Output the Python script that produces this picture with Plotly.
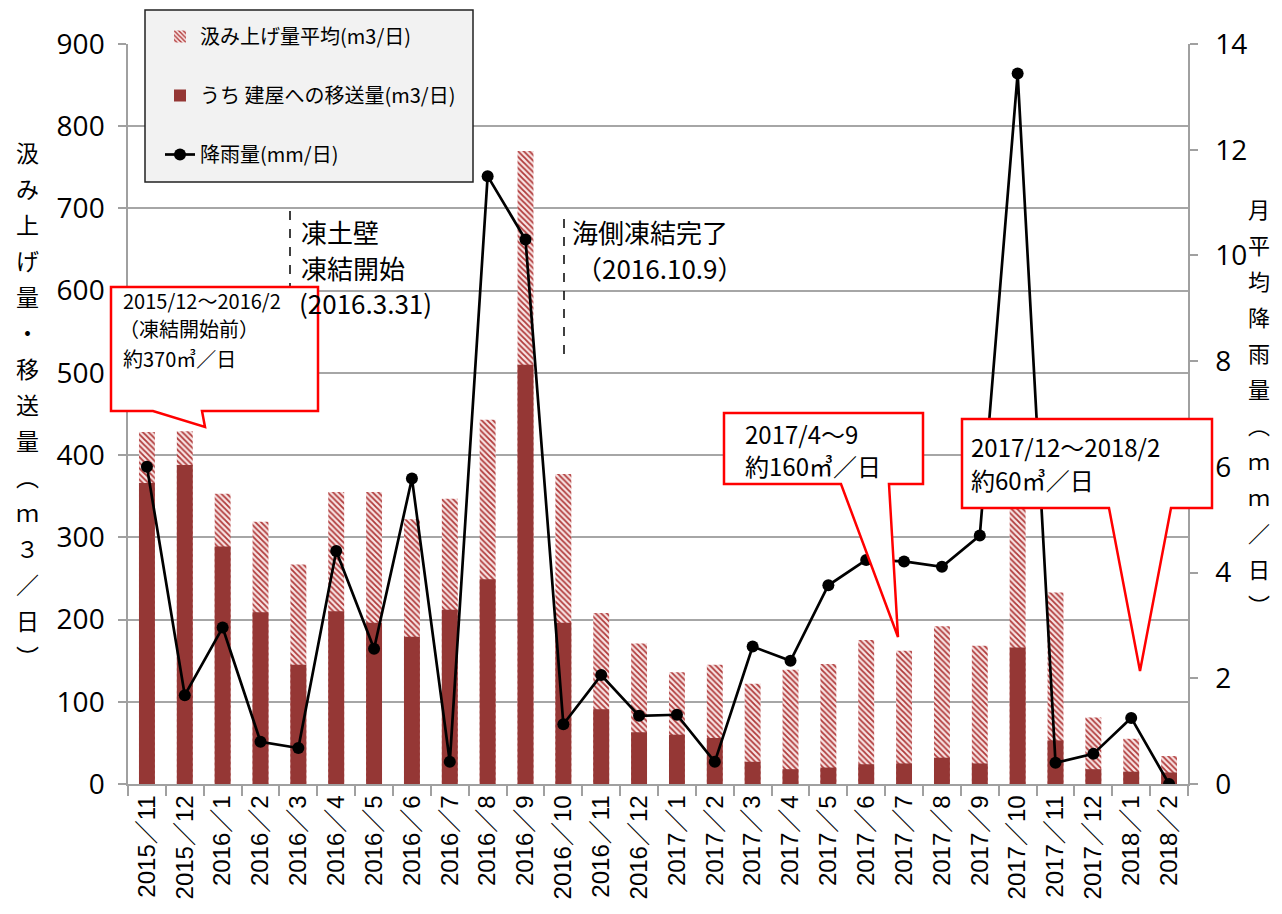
import plotly.graph_objects as go

# ---------------- data ----------------
months = ["2015／11", "2015／12",
          "2016／1", "2016／2", "2016／3", "2016／4", "2016／5", "2016／6",
          "2016／7", "2016／8", "2016／9", "2016／10", "2016／11", "2016／12",
          "2017／1", "2017／2", "2017／3", "2017／4", "2017／5", "2017／6",
          "2017／7", "2017／8", "2017／9", "2017／10", "2017／11", "2017／12",
          "2018／1", "2018／2"]
pumped = [428, 429, 353, 319, 267, 355, 355, 322, 347, 443, 770, 377, 208, 171,
          136, 145, 122, 139, 146, 175, 162, 192, 168, 385, 233, 81, 55, 34]
transferred = [366, 388, 289, 209, 145, 210, 196, 179, 212, 249, 510, 196, 91, 63,
               60, 56, 27, 18, 20, 24, 25, 32, 25, 166, 53, 18, 15, 14]
rainfall = [6.0, 1.68, 2.96, 0.80, 0.68, 4.41, 2.56, 5.78, 0.42, 11.5, 10.3, 1.13,
            2.06, 1.29, 1.31, 0.42, 2.60, 2.33, 3.76, 4.24, 4.21, 4.11, 4.70,
            13.44, 0.40, 0.57, 1.25, 0.0]

name_pumped = "汲み上げ量平均(m3/日)"
name_transfer = "うち 建屋への移送量(m3/日)"
name_rain = "降雨量(mm/日)"
left_title = "汲み上げ量・移送量︵ｍ３／日︶"
right_title = "月平均降雨量︵ｍｍ／日︶"

# ---------------- layout geometry (page pixels; page body has an 8px margin) ----------------
OFF = 8
W, H = 1266, 898
L, R, T, B = 128, 1188, 44, 784      # plot area in page pixels


def px(x):
    return (x - L) / (R - L)


def py(y):
    return (B - y) / (B - T)


JP = "Noto Sans CJK JP"
NUM = "Liberation Sans Narrow, Open Sans, Noto Sans, sans-serif"
DARK = "#953735"

fig = go.Figure()
fig.add_trace(go.Bar(
    x=months, y=pumped, name=name_pumped, width=0.42, legendgroup="a",
    marker=dict(color="#f6dcdc", line=dict(width=0),
                pattern=dict(shape="\\", fgcolor="#b03a3a", bgcolor="#f8e4e4",
                             size=4, solidity=0.45, fillmode="replace")),
))
fig.add_trace(go.Bar(
    x=months, y=transferred, name=name_transfer, width=0.42, legendgroup="b",
    marker=dict(color=DARK, line=dict(width=0)),
))
fig.add_trace(go.Scatter(
    x=months, y=rainfall, name=name_rain, yaxis="y2", legendgroup="c",
    mode="lines+markers", line=dict(color="black", width=2.7),
    marker=dict(color="black", size=12),
))

shapes = []
# dashed vertical markers
shapes.append(dict(type="line", xref="paper", yref="paper", x0=px(290), x1=px(290),
                   y0=py(211), y1=py(345), line=dict(color="black", width=1.5, dash="dash")))
shapes.append(dict(type="line", xref="paper", yref="paper", x0=px(564), x1=px(564),
                   y0=py(219), y1=py(361), line=dict(color="black", width=1.5, dash="dash")))


def callout(points):
    d = "M " + " L ".join(f"{px(a):.5f},{py(b):.5f}" for a, b in points) + " Z"
    return dict(type="path", xref="paper", yref="paper", path=d, layer="above",
                fillcolor="white", line=dict(color="#ff0000", width=2.5))


shapes.append(callout([(111, 287), (318, 287), (318, 411), (202, 411), (205, 427),
                       (153, 411), (111, 411)]))
shapes.append(callout([(724, 413), (923, 413), (923, 484), (889, 484), (898, 637),
                       (841, 484), (724, 484)]))
shapes.append(callout([(962, 419), (1212, 419), (1212, 508), (1171, 508), (1140, 671),
                       (1109, 508), (962, 508)]))
# legend box
shapes.append(dict(type="rect", xref="paper", yref="paper", layer="above",
                   x0=px(145), x1=px(473), y0=py(10), y1=py(182),
                   fillcolor="#f2f2f2", line=dict(color="#222222", width=1.5)))

annotations = []


def text(x, y, s, size, anchor="left"):
    annotations.append(dict(x=px(x), y=py(y), xref="paper", yref="paper", text=s,
                            showarrow=False, xanchor=anchor, yanchor="middle",
                            font=dict(family=JP, size=size, color="black")))


for i, ch in enumerate(left_title):
    text(28, 152 + 36 * i, ch, 23, "center")
for i, ch in enumerate(right_title):
    text(1259, 208 + 36 * i, ch, 22, "center")

text(299, 232, "凍土壁", 26)
text(299, 267, "凍結開始", 26)
text(297, 302, "(2016.3.31)", 26)
text(570, 232, "海側凍結完了", 26)
text(574, 267, "（2016.10.9）", 26)

text(121, 300, "2015/12～2016/2", 20)
text(117, 329, "（凍結開始前）", 20)
text(121, 358, "約370㎥／日", 20)

text(743, 433, "2017/4～9", 24)
text(743, 466, "約160㎥／日", 24)

text(969, 446, "2017/12～2018/2", 24)
text(969, 479, "約60㎥／日", 24)

fig.update_layout(
    width=W, height=H,
    margin=dict(l=L - OFF, r=W - (R - OFF), t=T - OFF, b=H - (B - OFF), pad=0,
                autoexpand=False),
    paper_bgcolor="white", plot_bgcolor="white",
    barmode="overlay",
    showlegend=True,
    legend=dict(x=px(160), y=py(17), xanchor="left", yanchor="top",
                bgcolor="rgba(0,0,0,0)", borderwidth=0,
                font=dict(family=JP, size=20, color="black"),
                tracegroupgap=30, traceorder="grouped"),
    xaxis=dict(type="category", range=[-0.5, len(months) - 0.5],
               tickangle=-90, tickson="boundaries", automargin=False,
               ticks="outside", ticklen=10, tickcolor="#a0a0a0", tickwidth=1.5,
               showline=True, linecolor="#a0a0a0", linewidth=1.5,
               showgrid=False,
               tickfont=dict(family="Liberation Sans, Noto Sans CJK JP", size=24, color="black")),
    yaxis=dict(range=[0, 900], dtick=100, showgrid=True, gridcolor="#a6a6a6", gridwidth=1.5,
               ticks="outside", ticklen=8, tickcolor="#a0a0a0", tickwidth=1.5, automargin=False,
               showline=True, linecolor="#a0a0a0", linewidth=1.5, zeroline=False,
               ticklabelstandoff=8,
               tickfont=dict(family=NUM, size=28, color="black")),
    yaxis2=dict(range=[0, 14], dtick=2, overlaying="y", side="right", showgrid=False,
                ticks="outside", ticklen=8, tickcolor="#a0a0a0", tickwidth=1.5, automargin=False,
                showline=True, linecolor="#a0a0a0", linewidth=1.5, zeroline=False,
                ticklabelstandoff=12,
                tickfont=dict(family=NUM, size=28, color="black")),
    shapes=shapes,
    annotations=annotations,
)

fig.write_html("out.html")
